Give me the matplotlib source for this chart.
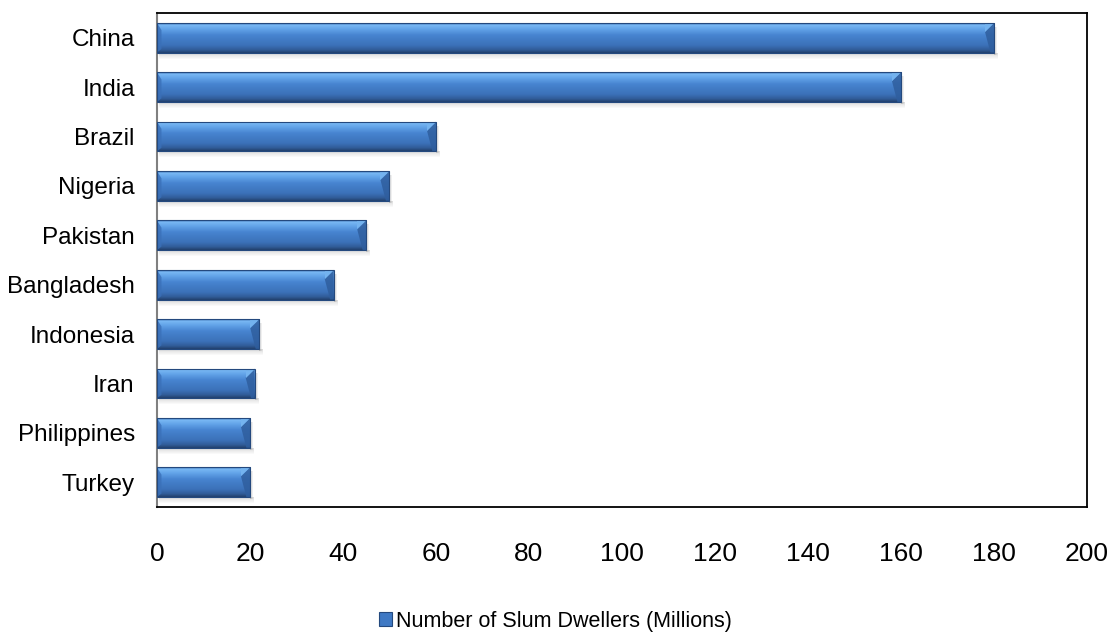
import numpy as np
import matplotlib.pyplot as plt
from matplotlib.patches import Rectangle, Polygon, Patch
from matplotlib.colors import LinearSegmentedColormap

# slum population by country, millions
countries = ['China', 'India', 'Brazil', 'Nigeria', 'Pakistan', 'Bangladesh',
             'Indonesia', 'Iran', 'Philippines', 'Turkey']
dwellers = [180, 160, 60, 50, 45, 38, 22, 21, 20, 20]
xticks = [0, 20, 40, 60, 80, 100, 120, 140, 160, 180, 200]
series_name = 'Number of Slum Dwellers (Millions)'

plt.rcParams['font.family'] = ['Liberation Sans', 'DejaVu Sans']

fig = plt.figure(figsize=(11.11, 6.32), dpi=100)
ax = fig.add_axes([0.1413, 0.1978, 0.8371, 0.7816])

n = len(countries)
ypos = np.arange(n)[::-1]
h = 0.6

# vertical shading used inside each bar (top -> bottom)
shade = LinearSegmentedColormap.from_list(
    'bevel', [(0.0, '#3a6cb0'), (0.06, '#79b8f4'), (0.2, '#62a3e8'),
              (0.4, '#4784d0'), (0.75, '#3b71b8'), (0.9, '#315c98'), (1.0, '#22416e')])
grad = np.linspace(0, 1, 64).reshape(-1, 1)

bars = ax.barh(ypos, dwellers, height=h, color='#4683cf', edgecolor='none', zorder=2)

# px -> data units for the bevel facets and shadow
px_x = 200 / (0.8371 * 1111)
px_y = n / (0.7816 * 632)
dx = 9 * px_x
dy = 9 * px_y

for bar, v, y in zip(bars, dwellers, ypos):
    top, bot = y + h / 2, y - h / 2
    # soft drop shadow below the bar
    for k in range(1, 7):
        ax.add_patch(Rectangle((2 * px_x, bot - k * px_y), v + 2 * px_x, px_y,
                               facecolor='#000000', alpha=0.16 * (1 - k / 7),
                               edgecolor='none', zorder=1))
    for k in range(1, 4):
        ax.add_patch(Rectangle((v, bot - 2 * px_y), k * px_x, h - 2 * px_y,
                               facecolor='#000000', alpha=0.06,
                               edgecolor='none', zorder=1))
    im = ax.imshow(grad, cmap=shade, aspect='auto', origin='upper',
                   extent=(0, v, bot, top), zorder=3)
    im.set_clip_path(bar)
    # right end facet: dark face with a light corner above the diagonal
    ax.add_patch(Polygon([(v - dx, top - dy), (v, top), (v, bot), (v - 0.4 * dx, bot)],
                         closed=True, facecolor='#2f5e9e', alpha=0.85,
                         edgecolor='none', zorder=4))
    ax.add_patch(Polygon([(v - dx, top - dy), (v - dx, top), (v, top)],
                         closed=True, facecolor='#74b3ef', edgecolor='none', zorder=4))
    # left end facet
    ax.add_patch(Polygon([(0, top), (0.5 * dx, top - 0.8 * dy), (0.5 * dx, bot + 0.4 * dy), (0, bot)],
                         closed=True, facecolor='#3a70b8', alpha=0.8,
                         edgecolor='none', zorder=4))
    ax.add_patch(Rectangle((0, bot), v, h, facecolor='none', edgecolor='#24497e',
                           linewidth=0.8, zorder=5))

ax.set_xlim(0, 200)
ax.set_ylim(-0.5, n - 0.5)
ax.set_xticks(xticks)
ax.set_xticklabels([str(t) for t in xticks], fontsize=19)
ax.tick_params(axis='x', length=0, pad=25)
ax.set_yticks(ypos)
ax.set_yticklabels(countries, fontsize=17.5)
ax.tick_params(axis='y', length=0, pad=16)

for s in ['top', 'right', 'bottom']:
    ax.spines[s].set_color('black')
    ax.spines[s].set_linewidth(1.3)
ax.spines['left'].set_color('#808080')
ax.spines['left'].set_linewidth(1.5)

handle = Patch(facecolor='#3f79c4', edgecolor='#24497e', linewidth=0.8)
fig.legend([handle], [series_name], loc='center', bbox_to_anchor=(0.5, 1 - 621 / 632),
           frameon=False, fontsize=15.5, handlelength=0.6, handleheight=0.6,
           handletextpad=0.2)

fig.savefig('out.png', dpi=100)
